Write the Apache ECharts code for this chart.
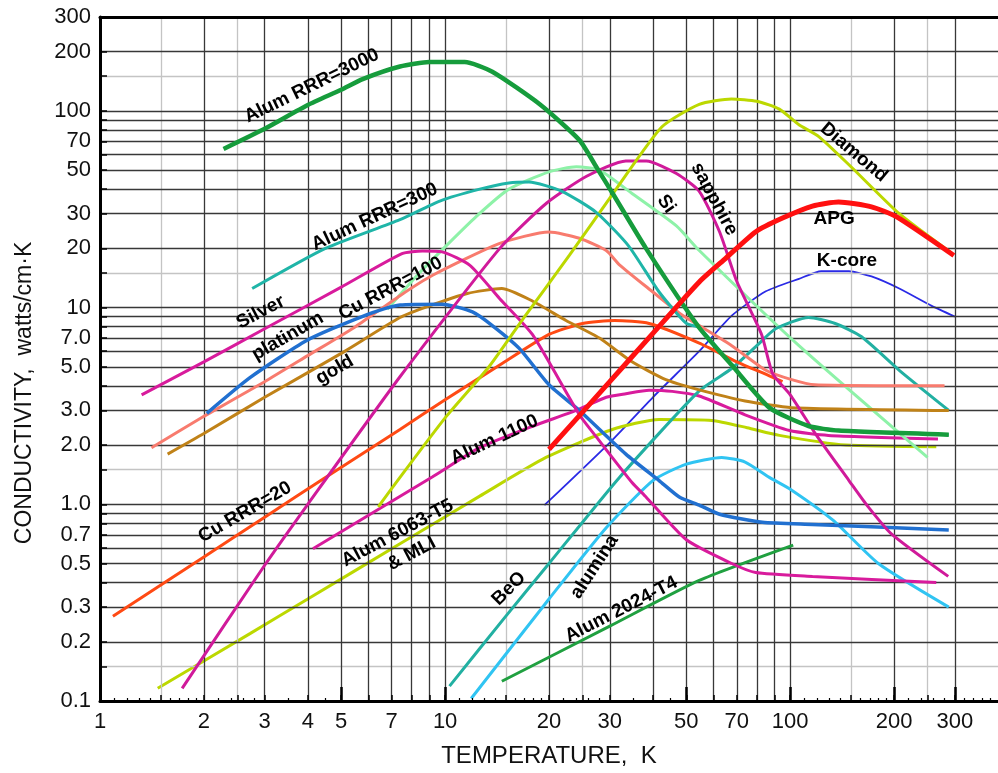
<!DOCTYPE html>
<html><head><meta charset="utf-8">
<script src="https://cdn.jsdelivr.net/npm/echarts@6/dist/echarts.min.js"></script>
<style>html,body{margin:0;padding:0;background:#fff}#c{width:998px;height:773px}</style>
</head><body><div id="c"></div>
<script>
// ---- tick labels / grid values ----
const xTickLabels = [1,2,3,4,5,7,10,20,30,50,70,100,200,300];
const yTickLabels = [0.1,0.2,0.3,0.5,0.7,1,2,3,5,7,10,20,30,50,70,100,200,300];
const xGridDark = [2,3,4,5,6,7,8,9,10,20,30,40,50,60,70,80,90,100,200,300];
const xGridLight = [1.5,2.5,15,25,150,250];
const yGridDark = [0.2,0.3,0.4,0.5,0.6,0.7,0.8,0.9,1,2,3,4,5,6,7,8,9,10,20,30,40,50,60,70,80,90,100,200];
const yGridLight = [0.15,1.5,15,150];
const xMinorTicks = [1.1,1.2,1.3,1.4,1.6,1.7,1.8,1.9,2.2,2.4,2.6,2.8,3.5,4.5,11,12,13,14,16,17,18,19,22,24,26,28,35,45,110,120,130,140,160,170,180,190,220,240,260,280,320,340,360,380];
const xMajorTicks = [5,10,50,100,200,300];

// ---- series data: [temperature K, conductivity W/cm-K] ----
const alum3000 = [[2.28,64],[3,81],[4,107],[5,128],[5.77,145],[7.4,168],[9,177],[11.4,177],[13.7,158],[18.8,108],[24.5,71],[27.4,52],[30.6,38],[38.2,20],[54.5,7.9],[67.7,5.1],[87,3.1],[113,2.5],[138,2.37],[288,2.26]];
const alum300 = [[2.76,12.5],[4.5,20],[7.4,28],[9.65,34.8],[12.6,40],[15.3,43],[17.5,43.5],[21.8,39],[27.4,30.5],[34,20.6],[41.7,12],[50,8.3],[54.5,7.9],[67.7,5.1],[87,3.1],[113,2.5],[138,2.37],[288,2.26]];
const silicon = [[6.8,9.8],[8.3,14.6],[9.9,20],[12.3,29],[15.3,40],[20,49],[24,52],[28,50],[34.8,38],[46.8,26],[54.5,19.5],[106,6.4],[250,1.73]];
const sapphire = [[1.73,0.116],[3,0.49],[4,1.0],[7.4,4.45],[14.4,20],[19.7,34],[25.7,46.5],[33.4,55.6],[38.3,55.6],[46.8,48],[54.5,39],[62.4,24.3],[70,13.6],[82.6,7.3],[89,4.6],[100,3.6],[120,2.2],[148,1.32],[166,1.0],[196,0.71],[287,0.43]];
const diamond = [[6.4,0.97],[7.4,1.37],[10,2.75],[13.4,5.0],[17,9],[22.9,18.4],[31.3,40],[42.5,83],[54.5,108],[67.6,115],[80,112],[93,102],[106,85],[121,74],[150,52],[207,30],[295,18.8]];
const apg = [[20,1.9],[30,4.2],[40,7.4],[54.5,13.5],[65,17.8],[79.5,24.3],[95,28.5],[116,32.8],[138,34.4],[172,32.5],[203,29],[298,18.4]];
const kcore = [[19.4,0.99],[30,2.06],[40,3.5],[54.5,6.0],[67.7,9.1],[85,12.1],[106,14],[123,15.3],[148,15.3],[172,14.4],[207,12.5],[257,10.2],[300,9.0]];
const beo = [[10.3,0.119],[15,0.27],[20,0.5],[32,1.37],[54.5,3.77],[67.7,4.9],[80,6.4],[90.7,7.8],[113,8.9],[135,8.3],[161,7.1],[207,4.8],[288,3.0]];
const alumina = [[11.9,0.103],[20,0.33],[29.3,0.76],[40,1.32],[50,1.6],[63.3,1.73],[74,1.64],[87,1.37],[101,1.18],[133,0.83],[180,0.5],[288,0.30]];
const alum2024 = [[14.6,0.126],[30,0.24],[54.5,0.41],[102,0.62]];
const alum1100 = [[4.14,0.594],[6,0.88],[9.2,1.38],[12.6,1.94],[18,2.5],[24,3.0],[29.3,3.5],[33.4,3.65],[39,3.8],[45.5,3.75],[54.5,3.55],[74,2.85],[99.6,2.37],[129,2.24],[268,2.15]];
const alum6063 = [[1.47,0.116],[2.72,0.22],[4,0.33],[7.4,0.63],[12.6,1.1],[19.6,1.73],[30.5,2.4],[41.7,2.7],[59.3,2.67],[75,2.45],[93,2.24],[145,2.0],[265,1.96]];
const cu20 = [[1.09,0.27],[2,0.54],[3,0.86],[4.5,1.37],[7.4,2.4],[10,3.4],[14.4,5.1],[20,7.3],[25,8.3],[31,8.6],[39,8.3],[54.5,6.6],[70,5.3],[87,4.5],[95,4.2]];
const cu100 = [[1.41,1.94],[2,2.8],[3,4.2],[4,5.7],[5.5,8],[7.4,11.5],[9.2,14.6],[14.4,21.2],[20,24.2],[24.5,22.5],[29.3,19.5],[32,16.5],[40,12],[48,9.3],[54.5,8.1],[67.7,6.4],[85,4.8],[101,4.3],[118,4.05],[280,4.0]];
const platinum = [[2.04,2.9],[2.72,4.4],[3.97,6.8],[5.65,8.9],[7.4,10.3],[9.8,10.4],[12,9.5],[13.7,8.1],[16.4,6.2],[20,4.05],[24.5,3.0],[33.4,1.8],[41.7,1.32],[47.7,1.09],[54.5,0.99],[62.4,0.89],[83,0.81],[116,0.79],[288,0.74]];
const silver = [[1.32,3.6],[2,5.3],[3,7.8],[5,12.7],[7.5,18.8],[8.6,19.4],[9.8,19.2],[11.8,16.4],[14.4,11.1],[17.9,7.3],[24.5,2.85],[28,2.1],[34.8,1.29],[38.2,1.09],[50,0.66],[67.7,0.5],[79.4,0.45],[116,0.43],[265,0.40]];
const gold = [[1.57,1.8],[2,2.29],[3,3.5],[5,5.85],[7.4,8.9],[9,10.2],[11.6,11.8],[14.6,12.5],[17.9,10.8],[22.4,8.6],[28,7.0],[34.8,5.3],[43.6,4.3],[53.5,3.85],[74,3.35],[101,3.1],[288,3.0]];

// ---- curve annotations: text, anchor T, anchor K, rotation (deg, ccw) ----
const labelText = ['Alum RRR=3000','Alum RRR=300','Silver','platinum','Cu RRR=100','gold','Cu RRR=20','Alum 1100','Alum 6063-T5','& MLI','BeO','alumina','Alum 2024-T4','Si','sapphire','Diamond','APG','K-core'];
const labelT = [4.11,6.25,2.92,3.5,6.95,4.79,2.63,13.9,7.28,8.0,15.3,27.1,32.4,43.7,60.2,153,134,146];
const labelK = [134,28.9,9.47,7.15,12.5,4.82,0.912,2.13,0.714,0.56,0.372,0.481,0.292,33.6,35.6,61.5,28.2,17.3];
const labelRot = [26,25,28,30,28,30,30,25,28,28,45,57,27,-55,-62,-40,0,0];

const curves = [
  ['K-core', kcore, '#2a2ae6', 1.8],
  ['Alum 6063-T5', alum6063, '#bcd800', 3],
  ['Alum 1100', alum1100, '#d81b9c', 3],
  ['Si', silicon, '#8ef2a8', 3],
  ['BeO', beo, '#22b0a2', 3],
  ['alumina', alumina, '#30c4f2', 3],
  ['Alum 2024-T4', alum2024, '#20a040', 3],
  ['Cu RRR=20', cu20, '#ff4a14', 3],
  ['Cu RRR=100', cu100, '#f87b6e', 3],
  ['gold', gold, '#c08218', 3],
  ['platinum', platinum, '#2170d0', 3.5],
  ['Silver', silver, '#d81b9c', 3],
  ['sapphire', sapphire, '#d01a9a', 3],
  ['Diamond', diamond, '#bcd800', 3],
  ['Alum RRR=300', alum300, '#1fb5a8', 3],
  ['Alum RRR=3000', alum3000, '#169c3c', 4.5],
  ['APG', apg, '#ff1010', 5]
];

const FONT = 'Liberation Sans, Arial, Helvetica, sans-serif';
const series = [];
function gridSeries(xs, ys, color) {
  series.push({
    type: 'line', data: [], z: 1, silent: true, animation: false,
    markLine: {
      silent: true, symbol: 'none', animation: false, label: {show: false},
      lineStyle: {color: color, width: 1.3, type: 'solid'},
      data: xs.map(v => ({xAxis: v})).concat(ys.map(v => ({yAxis: v})))
    }
  });
}
gridSeries(xGridLight, yGridLight, '#c4c4c4');
gridSeries(xGridDark, yGridDark, '#383838');

curves.forEach((c, i) => {
  series.push({
    name: c[0], type: 'line', data: c[1], z: 3 + i, smooth: 0.2,
    showSymbol: false, symbol: 'none', animation: false,
    lineStyle: {color: c[2], width: c[3]}
  });
});

const chart = echarts.init(document.getElementById('c'), null, {renderer: 'canvas'});
chart.setOption({
  backgroundColor: '#fff',
  animation: false,
  grid: {left: 100, top: 17, right: 0, bottom: 68, containLabel: false},
  xAxis: [{
    type: 'log', logBase: 10, min: 1, max: 400, position: 'bottom', z: 10,
    name: 'TEMPERATURE,  K', nameLocation: 'middle', nameGap: 43,
    nameTextStyle: {fontFamily: FONT, fontSize: 24, color: '#111'},
    axisLine: {show: true, lineStyle: {color: '#000', width: 3}},
    axisTick: {show: true, inside: true, length: 6, customValues: xGridDark.concat(xGridLight),
      lineStyle: {color: '#000', width: 1.5}},
    axisLabel: {show: true, customValues: xTickLabels, formatter: v => String(v), margin: 10,
      fontFamily: FONT, fontSize: 22, color: '#111'},
    splitLine: {show: false}, minorTick: {show: false}
  }, {
    type: 'log', logBase: 10, min: 1, max: 400, position: 'top', z: 10,
    axisLine: {show: true, lineStyle: {color: '#000', width: 3}},
    axisTick: {show: false}, axisLabel: {show: false}, splitLine: {show: false}
  }, {
    type: 'log', logBase: 10, min: 1, max: 400, position: 'bottom', z: 11,
    axisLine: {show: false},
    axisTick: {show: true, inside: true, length: 3, customValues: xMinorTicks,
      lineStyle: {color: '#000', width: 1.2}},
    axisLabel: {show: false}, splitLine: {show: false}
  }, {
    type: 'log', logBase: 10, min: 1, max: 400, position: 'bottom', z: 11,
    axisLine: {show: false},
    axisTick: {show: true, inside: true, length: 14, customValues: xMajorTicks,
      lineStyle: {color: '#000', width: 2.5}},
    axisLabel: {show: false}, splitLine: {show: false}
  }],
  yAxis: [{
    type: 'log', logBase: 10, min: 0.1, max: 300, z: 10,
    name: 'CONDUCTIVITY,  watts/cm·K', nameLocation: 'middle', nameGap: 64, nameRotate: 90,
    nameTextStyle: {fontFamily: FONT, fontSize: 23, color: '#111', padding: [0, 68, 0, 0]},
    axisLine: {show: true, lineStyle: {color: '#000', width: 3}},
    axisTick: {show: true, inside: true, length: 7, customValues: yGridDark.concat(yGridLight),
      lineStyle: {color: '#000', width: 1.5}},
    axisLabel: {show: true, customValues: yTickLabels, margin: 9,
      formatter: v => (v < 10 ? Number(v).toFixed(1) : String(Math.round(v))),
      fontFamily: FONT, fontSize: 22, color: '#111'},
    splitLine: {show: false}
  }],
  series: series
});

// curve annotations, positioned through the chart's own axes
const graphics = labelText.map((t, i) => {
  const p = chart.convertToPixel({xAxisIndex: 0, yAxisIndex: 0}, [labelT[i], labelK[i]]);
  return {
    type: 'text', x: p[0], y: p[1], rotation: labelRot[i] * Math.PI / 180, z: 100, silent: true,
    style: {text: t, fill: '#000', font: 'bold 19px ' + FONT, align: 'center', verticalAlign: 'middle'}
  };
});
chart.setOption({graphic: graphics});
</script></body></html>
